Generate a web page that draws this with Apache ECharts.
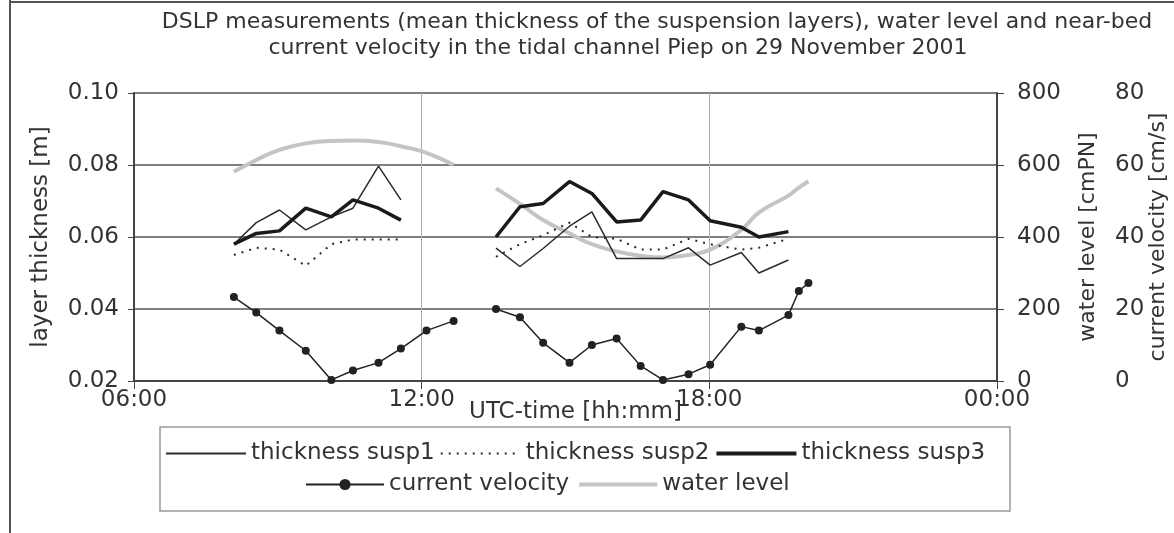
<!DOCTYPE html>
<html>
<head>
<meta charset="utf-8">
<script src="https://cdn.jsdelivr.net/npm/echarts@6/dist/echarts.min.js"></script>
<style>
  html, body { margin: 0; padding: 0; background: #fff; }
  #main { width: 1174px; height: 533px; }
</style>
</head>
<body>
<div id="main"></div>
<script>
// measurement times (UTC), two campaigns on 29 Nov 2001
var timesA = ['08:05', '08:33', '09:02', '09:35', '10:07', '10:34', '11:06', '11:34', '12:06', '12:40'];
var timesB = ['13:33', '14:03', '14:32', '15:05', '15:33', '16:04', '16:34', '17:02', '17:34', '18:01', '18:40', '19:02', '19:39', '19:52', '20:04'];

// layer thickness [m]
var susp1A = [0.058, 0.064, 0.0675, 0.062, 0.0656, 0.068, 0.0797, 0.0703];
var susp1B = [0.0569, 0.0518, 0.0568, 0.063, 0.067, 0.054, 0.054, 0.054, 0.057, 0.0522, 0.0557, 0.050, 0.0536];
var susp2A = [0.055, 0.057, 0.0565, 0.052, 0.058, 0.0593, 0.0593, 0.0593];
var susp2B = [0.0545, 0.058, 0.0605, 0.064, 0.060, 0.0595, 0.0565, 0.0565, 0.0595, 0.058, 0.0565, 0.057, 0.0595];
var susp3A = [0.058, 0.061, 0.0617, 0.068, 0.0656, 0.0703, 0.068, 0.0647];
var susp3B = [0.060, 0.0684, 0.0693, 0.0754, 0.0721, 0.0642, 0.0647, 0.0726, 0.0703, 0.0645, 0.0627, 0.060, 0.0615];

// near-bed current velocity [cm/s]
var velA = [23.3, 19.0, 14.0, 8.4, 0.3, 2.9, 5.1, 9.0, 14.0, 16.7];
var velB = [20.0, 17.7, 10.6, 5.1, 10.0, 11.8, 4.2, 0.3, 1.9, 4.5, 15.1, 14.0, 18.3, 25.0, 27.2];

// water level [cmPN]
var waterA = [581, 614, 642, 660, 667, 668, 664, 652, 634, 600];
var waterB = [535, 492, 447, 410, 380, 360, 348, 343, 350, 365, 420, 468, 515, 537, 555];

var xTicks = ['06:00', '12:00', '18:00', '00:00'];

var FONT = 'DejaVu Sans';
var INK = '#333';

function hours(t) {
    var p = t.split(':');
    return +p[0] + (+p[1]) / 60;
}

// two segments with a gap in between
function pairs(vA, vB) {
    var out = vA.map(function (v, i) { return [hours(timesA[i]), v]; });
    out.push([13.0, '-']);
    return out.concat(vB.map(function (v, i) { return [hours(timesB[i]), v]; }));
}

// legend entry showing only the line (no marker)
function plain(name, width) {
    var item = { name: name, itemStyle: { opacity: 0 } };
    if (width) item.lineStyle = { width: width };
    return item;
}

var chart = echarts.init(document.getElementById('main'));

var option = {
    backgroundColor: '#fff',
    animation: false,
    textStyle: { fontFamily: FONT, color: INK },
    title: [
        {
            text: 'DSLP measurements (mean thickness of the suspension layers), water level and near-bed',
            left: 652, top: 6, textAlign: 'center',
            textStyle: { fontFamily: FONT, fontSize: 22, fontWeight: 'normal', color: INK }
        },
        {
            text: 'current velocity in the tidal channel Piep on 29 November 2001',
            left: 613, top: 32, textAlign: 'center',
            textStyle: { fontFamily: FONT, fontSize: 22, fontWeight: 'normal', color: INK }
        }
    ],
    grid: { left: 134, right: 177, top: 93, bottom: 152, outerBoundsMode: 'none' },
    legend: [
        {
            left: 160, top: 437, itemWidth: 80, itemHeight: 14, itemGap: 5,
            textStyle: { fontFamily: FONT, fontSize: 23, color: INK },
            data: [plain('thickness susp1'), plain('thickness susp2'), plain('thickness susp3', 4)]
        },
        {
            left: 300, top: 468, itemWidth: 78, itemHeight: 14, itemGap: 8,
            textStyle: { fontFamily: FONT, fontSize: 23, color: INK },
            data: ['current velocity', plain('water level', 4)]
        }
    ],
    graphic: [
        { type: 'line', shape: { x1: 10, y1: 0, x2: 10, y2: 533 }, style: { stroke: '#555', lineWidth: 2 } },
        { type: 'line', shape: { x1: 10, y1: 2, x2: 1174, y2: 2 }, style: { stroke: '#555', lineWidth: 2 } },
        { type: 'rect', shape: { x: 160, y: 427, width: 850, height: 84 }, style: { fill: 'none', stroke: '#999', lineWidth: 1.5 } }
    ],
    xAxis: {
        type: 'value', min: 6, max: 24, interval: 6,
        name: 'UTC-time [hh:mm]', nameLocation: 'middle', nameGap: 20, nameMoveOverlap: false,
        nameTextStyle: { fontFamily: FONT, fontSize: 23, color: INK, padding: [0, 0, 0, 20] },
        axisLine: { lineStyle: { color: '#444', width: 2 } },
        axisTick: { show: true, length: 8, lineStyle: { color: '#444' } },
        axisLabel: {
            fontFamily: FONT, fontSize: 23, color: INK, margin: 8,
            formatter: function (v) { return xTicks[Math.round((v - 6) / 6)]; }
        },
        splitLine: { show: true, lineStyle: { color: '#aaa', width: 1 } }
    },
    yAxis: [
        {
            type: 'value', min: 0.02, max: 0.10, interval: 0.02, position: 'left',
            name: 'layer thickness [m]', nameLocation: 'middle', nameGap: 81, nameMoveOverlap: false,
            nameTextStyle: { fontFamily: FONT, fontSize: 23, color: INK },
            axisLine: { show: true, lineStyle: { color: '#444', width: 2 } },
            axisTick: { show: true, length: 6, lineStyle: { color: '#444' } },
            axisLabel: { fontFamily: FONT, fontSize: 23, color: INK, margin: 15, formatter: function (v) { return v.toFixed(2); } },
            splitLine: { show: true, lineStyle: { color: '#555', width: 1.5 } }
        },
        {
            type: 'value', min: 0, max: 800, interval: 200, position: 'right',
            name: 'water level [cmPN]', nameLocation: 'middle', nameGap: 80, nameMoveOverlap: false,
            nameTextStyle: { fontFamily: FONT, fontSize: 22, color: INK },
            axisLine: { show: true, lineStyle: { color: '#444', width: 2 } },
            axisTick: { show: true, length: 7, lineStyle: { color: '#444' } },
            axisLabel: { fontFamily: FONT, fontSize: 23, color: INK, margin: 20 },
            splitLine: { show: false }
        },
        {
            type: 'value', min: 0, max: 80, interval: 20, position: 'right', offset: 110,
            name: 'current velocity [cm/s]', nameLocation: 'middle', nameGap: 40, nameMoveOverlap: false,
            nameTextStyle: { fontFamily: FONT, fontSize: 22, color: INK },
            axisLine: { show: false },
            axisTick: { show: false },
            axisLabel: { fontFamily: FONT, fontSize: 23, color: INK, margin: 8 },
            splitLine: { show: false }
        }
    ],
    series: [
        {
            name: 'water level', type: 'line', yAxisIndex: 1, smooth: true, symbol: 'none', z: 1,
            lineStyle: { color: '#c4c4c4', width: 4 }, itemStyle: { color: '#c4c4c4' },
            data: pairs(waterA, waterB)
        },
        {
            name: 'thickness susp1', type: 'line', yAxisIndex: 0, symbol: 'none', z: 3,
            lineStyle: { color: '#2b2b2b', width: 1.5 }, itemStyle: { color: '#2b2b2b' },
            data: pairs(susp1A, susp1B)
        },
        {
            name: 'thickness susp2', type: 'line', yAxisIndex: 0, symbol: 'none', z: 3,
            lineStyle: { color: '#2b2b2b', width: 2, type: [2, 6] }, itemStyle: { color: '#2b2b2b' },
            data: pairs(susp2A, susp2B)
        },
        {
            name: 'thickness susp3', type: 'line', yAxisIndex: 0, symbol: 'none', z: 3,
            lineStyle: { color: '#1a1a1a', width: 3.5 }, itemStyle: { color: '#1a1a1a' },
            data: pairs(susp3A, susp3B)
        },
        {
            name: 'current velocity', type: 'line', yAxisIndex: 2, symbol: 'circle', symbolSize: 8, z: 3,
            lineStyle: { color: '#222', width: 1.5 }, itemStyle: { color: '#222' },
            data: pairs(velA, velB)
        }
    ]
};

chart.setOption(option);
</script>
</body>
</html>
